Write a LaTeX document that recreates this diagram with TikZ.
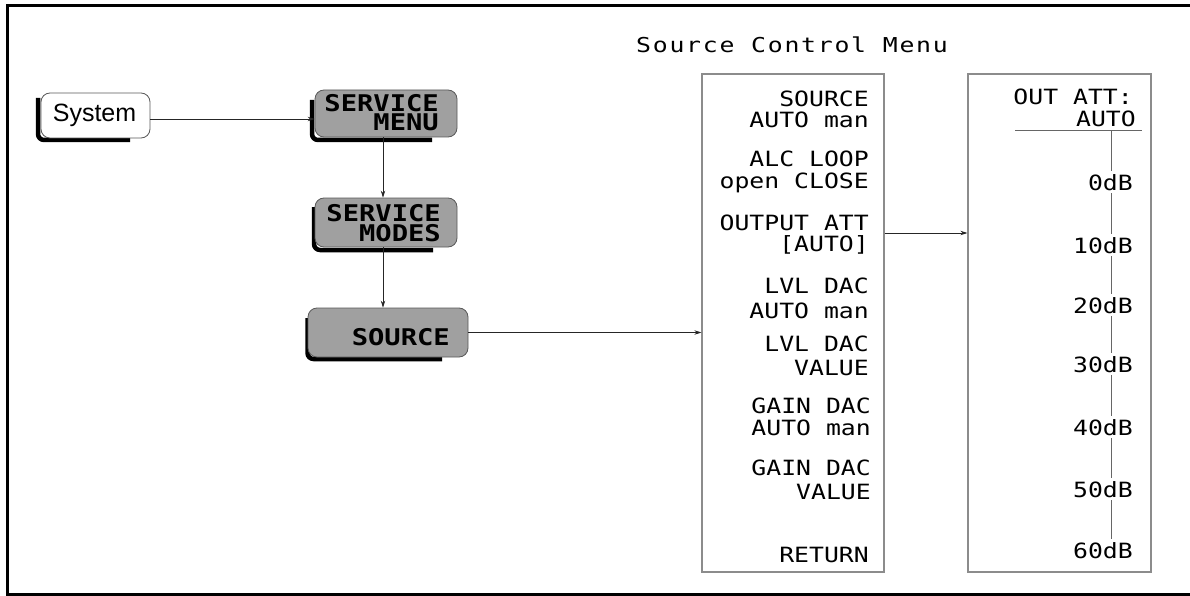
\documentclass[tikz,border=0pt]{standalone}
\usepackage{fontspec}
\setmainfont{Liberation Sans}
\newfontfamily\monof[FakeStretch=1.18]{DejaVu Sans Mono}
\newfontfamily\titlef[FakeStretch=1.21,LetterSpace=8.5]{DejaVu Sans Mono}
\newfontfamily\keyf[FakeStretch=1.18]{DejaVu Sans Mono}
\newcommand\mykeyfont{\keyf\bfseries\fontsize{23}{19.5}\selectfont\lineskiplimit-50pt\relax}
\usetikzlibrary{arrows.meta}
\definecolor{keygray}{RGB}{160,160,160}
\begin{document}
\begin{tikzpicture}[x=1pt,y=-1pt,
  conn/.style={draw=black!85, line width=0.8pt, -{Stealth[length=7pt,width=4.5pt]}},
  menubox/.style={draw=black!45, line width=1.3pt, inner sep=0pt},
  keybody/.style={draw=black!65, line width=0.8pt, rounded corners=9pt, inner sep=0pt},
  keyshadow/.style={draw=black, line width=4.5pt, rounded corners=6pt},
  mtxt/.style={anchor=base east, inner sep=0pt, font=\monof\fontsize{21}{24}\selectfont},
  dbtxt/.style={anchor=base east, inner sep=3pt, fill=white, font=\monof\fontsize{21}{24}\selectfont},
  ktxt/.style={anchor=base east, inner sep=0pt, align=right, font=\mykeyfont},
  frame/.style={draw=black, line width=3.5pt}
]
\useasboundingbox (0,0) rectangle (1190,596);
% frame
\draw[frame] (1190,5.5) -- (7.5,5.5) -- (7.5,594.5) -- (1190,594.5);

% title
\node[anchor=base west, inner sep=0pt, font=\titlef\fontsize{20.5}{24}\selectfont] (title) at (636,53) {Source Control Menu};

% shadows
\draw[keyshadow] (38,98) -- (38,140) -- (130,140);
\draw[keyshadow] (312,100) -- (312,140) -- (432,140);
\draw[keyshadow] (314,207) -- (314,250) -- (433,250);
\draw[keyshadow] (307.5,318) -- (307.5,359) -- (442,359);

% keys
\node[keybody, fill=white, minimum width=109pt, minimum height=45pt] (system) at (95.5,115.5) {};
\node[keybody, fill=keygray, minimum width=142pt, minimum height=47pt] (smenu) at (386,113.5) {};
\node[keybody, fill=keygray, minimum width=142pt, minimum height=49pt] (smodes) at (386,222.5) {};
\node[keybody, fill=keygray, minimum width=160pt, minimum height=49pt] (source) at (388,332.5) {};

\node[anchor=base, inner sep=0pt, font=\fontsize{25}{28}\selectfont] (systemtxt) at (94.5,122) {System};
\node[ktxt] (smenutxt) at (439,131) {SERVICE\\MENU};
\node[ktxt] (smodestxt) at (441,241) {SERVICE\\MODES};
\node[ktxt] (sourcetxt) at (450,345) {SOURCE};

% menu boxes
\node[menubox, minimum width=182pt, minimum height=498pt] (box1) at (793,323) {};
\node[menubox, minimum width=183pt, minimum height=498pt] (box2) at (1059.5,323) {};

% connectors
\coordinate (r1) at (0,119);
\coordinate (c1) at (383,0);
\coordinate (r2) at (0,233);
\draw[conn] (system.east |- r1) -- (smenu.west |- r1);
\draw[conn] (smenu.south -| c1) -- (smodes.north -| c1);
\draw[conn] (smodes.south -| c1) -- (source.north -| c1);
\draw[conn] (source.east) -- (box1.west |- source.east);
\draw[conn] (box1.east |- r2) -- (box2.west |- r2);

% box1 text
\node[mtxt] (m1a) at (869,107) {SOURCE};
\node[mtxt] (m1b) at (869,128) {AUTO man};
\node[mtxt] (m2a) at (869,167) {ALC LOOP};
\node[mtxt] (m2b) at (869,188) {open CLOSE};
\node[mtxt] (m3a) at (869,230) {OUTPUT ATT};
\node[mtxt] (m3b) at (869,251) {[AUTO]};
\node[mtxt] (m4a) at (869,293) {LVL DAC};
\node[mtxt] (m4b) at (869,318) {AUTO man};
\node[mtxt] (m5a) at (869,351) {LVL DAC};
\node[mtxt] (m5b) at (869,375) {VALUE};
\node[mtxt] (m6a) at (871,413) {GAIN DAC};
\node[mtxt] (m6b) at (871,435) {AUTO man};
\node[mtxt] (m7a) at (871,475) {GAIN DAC};
\node[mtxt] (m7b) at (871,499) {VALUE};
\node[mtxt] (m8) at (869,562) {RETURN};

% box2 content
\coordinate (hl) at (1015,131);
\coordinate (hr) at (1142,131);
\draw[draw=black!60, line width=1pt] (hl) -- (hr);
\coordinate (vt) at (1111,131);
\coordinate (vb) at (1111,543);
\draw[draw=black!60, line width=0.8pt] (vt) -- (vb);
\node[mtxt] (o1) at (1133,105) {OUT ATT:};
\node[mtxt] (o2) at (1136,127) {AUTO};
\node[dbtxt] (d0) at (1136,190) {0dB};
\node[dbtxt] (d10) at (1136,253) {10dB};
\node[dbtxt] (d20) at (1136,313) {20dB};
\node[dbtxt] (d30) at (1136,372) {30dB};
\node[dbtxt] (d40) at (1136,435) {40dB};
\node[dbtxt] (d50) at (1136,497) {50dB};
\node[dbtxt] (d60) at (1136,558) {60dB};
\end{tikzpicture}
\end{document}
